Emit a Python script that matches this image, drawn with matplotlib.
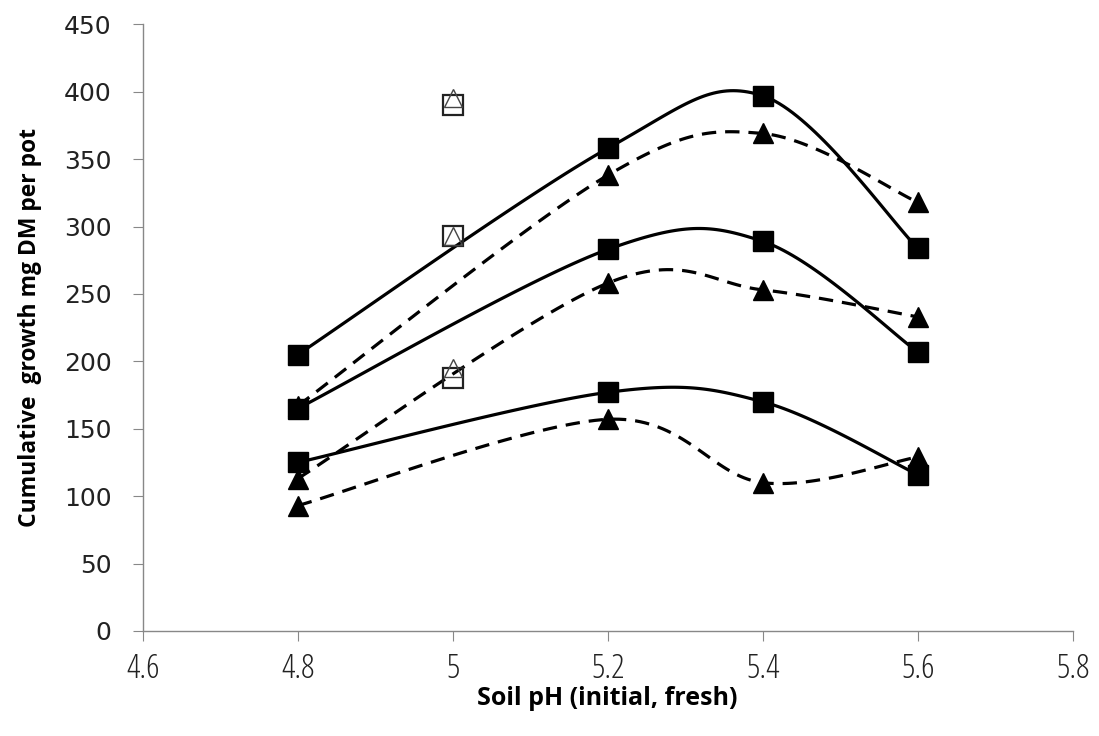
import matplotlib
matplotlib.use("Agg")
import matplotlib.pyplot as plt
import numpy as np

# soil pH levels
ph = [4.8, 5.2, 5.4, 5.6]

# solid lines, filled squares (top, middle, bottom)
sq_top = [205, 358, 397, 284]
sq_mid = [165, 283, 289, 207]
sq_low = [125, 177, 170, 116]

# dashed lines, filled triangles
tri_top = [167, 338, 369, 318]
tri_mid = [113, 258, 253, 233]
tri_low = [93, 157, 110, 129]

# open markers at pH 5
open_x = [5.0, 5.0, 5.0]
open_sq = [390, 293, 188]
open_tri = [395, 293, 195]


def smooth(x, y, n=40):
    """Excel-like smoothed line (Catmull-Rom as cubic Bezier)"""
    p = np.column_stack([x, y]).astype(float)
    pts = np.vstack([p[0], p, p[-1]])
    t = np.linspace(0, 1, n)[:, None]
    out = []
    for i in range(1, len(pts) - 2):
        p0, p1, p2, p3 = pts[i - 1], pts[i], pts[i + 1], pts[i + 2]
        c1 = p1 + (p2 - p0) / 6.0
        c2 = p2 - (p3 - p1) / 6.0
        seg = ((1 - t) ** 3) * p1 + 3 * ((1 - t) ** 2) * t * c1 + 3 * (1 - t) * t ** 2 * c2 + t ** 3 * p2
        out.append(seg)
    out = np.vstack(out)
    return out[:, 0], out[:, 1]


fig = plt.figure(figsize=(10.99, 7.36), dpi=100)
ax = fig.add_axes([0.130, 0.1427, 0.846, 0.8243])

for y in [tri_top, tri_mid, tri_low]:
    sx, sy = smooth(ph, y)
    ax.plot(sx, sy, color='black', lw=2.3, dashes=(4.5, 2.8), zorder=2)
    ax.plot(ph, y, linestyle='none', marker='^', ms=14, color='black', zorder=3)

for y in [sq_top, sq_mid, sq_low]:
    sx, sy = smooth(ph, y)
    ax.plot(sx, sy, color='black', lw=2.3, zorder=2)
    ax.plot(ph, y, linestyle='none', marker='s', ms=14, color='black', zorder=4)

ax.plot(open_x, open_sq, linestyle='none', marker='s', ms=14, mfc='none',
        mec='#222222', mew=1.6, zorder=5)
ax.plot(open_x, open_tri, linestyle='none', marker='^', ms=13, mfc='none',
        mec='#444444', mew=1.0, zorder=5)

ax.set_xlim(4.6, 5.8)
ax.set_ylim(0, 450)
ax.set_xticks([4.6, 4.8, 5.0, 5.2, 5.4, 5.6, 5.8])
ax.set_xticklabels(['4.6', '4.8', '5', '5.2', '5.4', '5.6', '5.8'],
                   fontdict={'family': 'Open Sans', 'stretch': 'condensed',
                             'size': 24})
ax.set_yticks(np.arange(0, 451, 50))

for s in ['top', 'right']:
    ax.spines[s].set_visible(False)
for s in ['left', 'bottom']:
    ax.spines[s].set_color('#888888')
    ax.spines[s].set_linewidth(1.0)

ax.tick_params(axis='both', direction='out', length=7.5, color='#888888',
               labelcolor='#222222')
ax.tick_params(axis='y', labelsize=18, pad=15)
ax.tick_params(axis='x', pad=8)

ax.set_xlabel('Soil pH (initial, fresh)', fontsize=18, fontweight='bold',
              family='Open Sans', labelpad=0)
ax.set_ylabel('Cumulative  growth mg DM per pot', fontsize=16.5,
              fontweight='bold', family='Open Sans', labelpad=16)

fig.savefig('out.png', dpi=100)
